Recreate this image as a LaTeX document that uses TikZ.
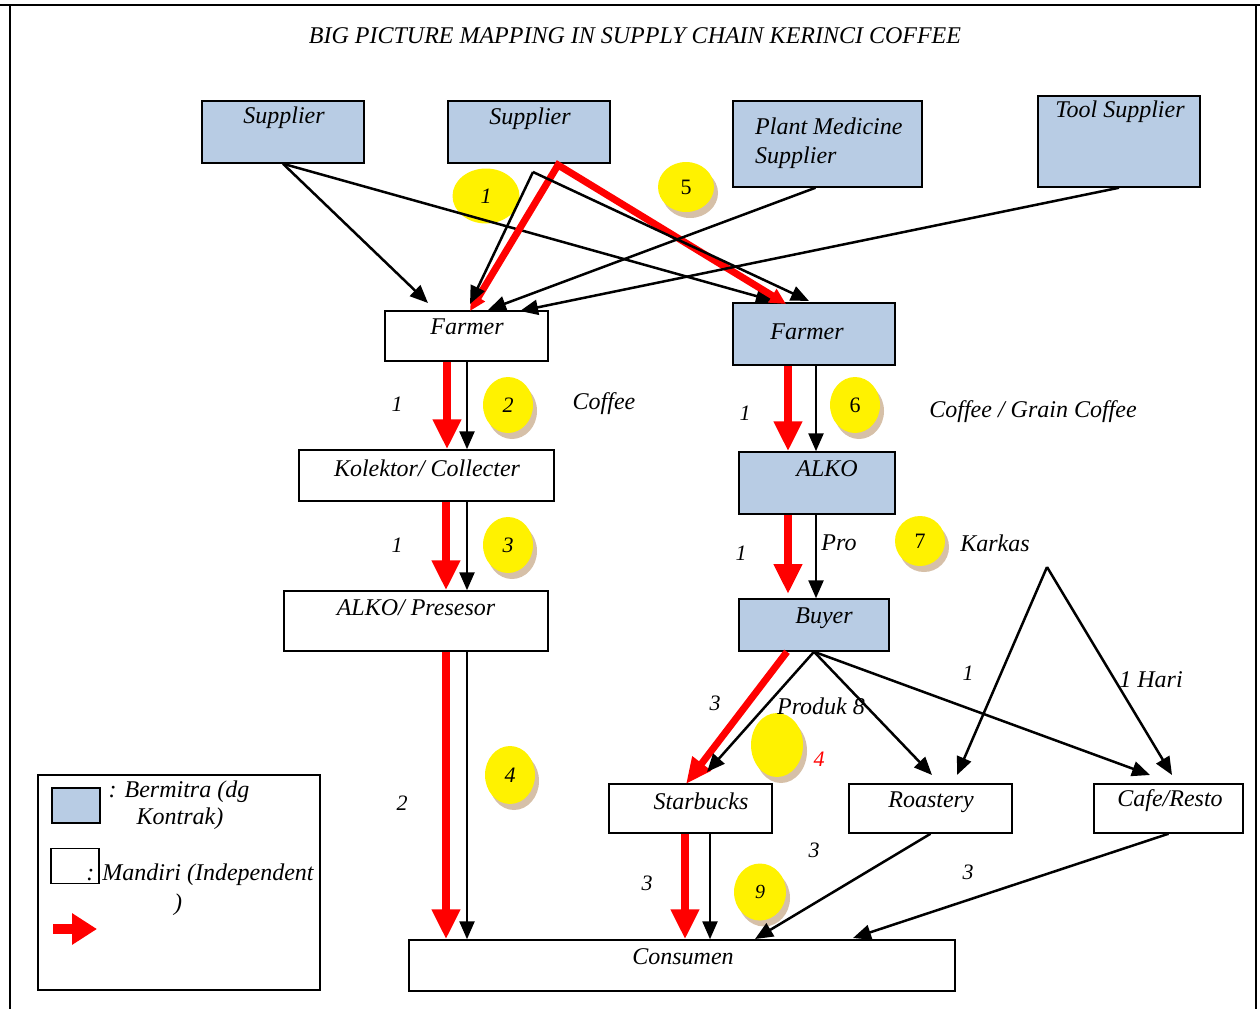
\documentclass[tikz,border=0pt]{standalone}
\usepackage{fontspec}
\setmainfont{Liberation Serif}
\usetikzlibrary{arrows.meta,shapes.geometric,shadows}
\definecolor{bfill}{RGB}{184,204,228}
\definecolor{shad}{RGB}{214,192,168}
\begin{document}
\begin{tikzpicture}[x=1pt,y=-1pt,
  box/.style={draw, line width=1.5pt, inner sep=0pt},
  bbox/.style={box, fill=bfill},
  txt/.style={font=\fontsize{24}{28}\selectfont\itshape, inner sep=0pt},
  num/.style={font=\fontsize{22}{26}\selectfont\itshape, inner sep=0pt},
  arr/.style={line width=2.5pt, -{Triangle[length=18pt,width=15pt]}},
  plain/.style={line width=2.5pt},
  rarr/.style={red, line width=8pt, -{Triangle[length=30pt,width=27pt]}},
  circ/.style={ellipse, fill=yellow, inner sep=0pt, font=\fontsize{22}{26}\selectfont\itshape},
  shd/.style={drop shadow={shadow xshift=4pt, shadow yshift=-6pt, fill=shad, opacity=1}}
]
\useasboundingbox (0,0) rectangle (1260,1009);
% frame
\draw[line width=2pt] (0,5) -- (1260,5);
\draw[line width=1.5pt] (10,5) -- (10,1009);
\draw[line width=1.5pt] (1256,5) -- (1256,1009);
\node[txt] (title) at (635,36) {BIG PICTURE MAPPING IN SUPPLY CHAIN KERINCI COFFEE};

% boxes
\node[bbox, minimum width=162pt, minimum height=62pt] (s1) at (283,132) {};
\node[bbox, minimum width=162pt, minimum height=62pt] (s2) at (529,132) {};
\node[bbox, minimum width=189pt, minimum height=86pt] (pm) at (827.5,144) {};
\node[bbox, minimum width=162pt, minimum height=91pt] (ts) at (1119,141.5) {};
\node[box, minimum width=163pt, minimum height=50pt] (fl) at (466.5,336) {};
\node[bbox, minimum width=162pt, minimum height=62pt] (fr) at (814,334) {};
\node[box, minimum width=255pt, minimum height=51pt] (kol) at (426.5,475.5) {};
\node[bbox, minimum width=156pt, minimum height=62pt] (alko) at (817,483) {};
\node[box, minimum width=264pt, minimum height=60pt] (pres) at (416,621) {};
\node[bbox, minimum width=150pt, minimum height=52pt] (buy) at (814,625) {};
\node[box, minimum width=163pt, minimum height=49pt] (sb) at (690.5,808.5) {};
\node[box, minimum width=163pt, minimum height=49pt] (ro) at (930.5,808.5) {};
\node[box, minimum width=149pt, minimum height=49pt] (cr) at (1168.5,808.5) {};
\node[box, minimum width=546pt, minimum height=51pt] (con) at (682,965.5) {};

% box texts
\node[txt] (ts1) at (284,118) {Supplier};
\node[txt] (ts2) at (530,119) {Supplier};
\node[txt, anchor=west] (tpm1) at (755,126) {Plant Medicine};
\node[txt, anchor=west] (tpm2) at (755,158) {Supplier};
\node[txt] (tts) at (1120,112) {Tool Supplier};
\node[txt] (tfl) at (467,327) {Farmer};
\node[txt] (tfr) at (807,332) {Farmer};
\node[txt] (tkol) at (427,468) {Kolektor/ Collecter};
\node[txt] (talko) at (827,469) {ALKO};
\node[txt] (tpres) at (416,608) {ALKO/ Presesor};
\node[txt] (tbuy) at (824,618) {Buyer};
\node[txt] (tsb) at (701,801) {Starbucks};
\node[txt] (tro) at (931,802) {Roastery};
\node[txt] (tcr) at (1170,801) {Cafe/Resto};
\node[txt] (tcon) at (683,957) {Consumen};

% yellow circles
\node[circ, minimum width=67pt, minimum height=55pt] (c1) at (486,196) {1};
\node[circ, shd, minimum width=56pt, minimum height=50pt, font=\fontsize{22}{26}\selectfont] (c5) at (686,187) {5};
\node[circ, shd, minimum width=50pt, minimum height=56pt] (c2) at (508,405) {2};
\node[circ, shd, minimum width=50pt, minimum height=56pt] (c3) at (508,545) {3};
\node[circ, shd, minimum width=50pt, minimum height=56pt, font=\fontsize{22}{26}\selectfont] (c6) at (855,405) {6};
\node[circ, shd, minimum width=50pt, minimum height=50pt, font=\fontsize{22}{26}\selectfont] (c7) at (920,541) {7};
\node[circ, shd, minimum width=50pt, minimum height=58pt] (c4) at (510,775) {4};
\node[circ, shd, minimum width=52pt, minimum height=64pt] (c8) at (777,745) {};
\node[circ, shd, minimum width=52pt, minimum height=57pt, font=\fontsize{20}{24}\selectfont\itshape] (c9) at (760,892) {9};

% arrow tip coordinates
\coordinate (tA) at (428,303);
\coordinate (tB) at (470,304);
\coordinate (tR1) at (470,311);
\coordinate (tC) at (488,310);
\coordinate (tD) at (520,311);
\coordinate (tE) at (774,301);
\coordinate (tR2) at (786,304);
\coordinate (tF) at (809,301);
\coordinate (v2) at (533,172);
\coordinate (vr) at (558,165);
\coordinate (apex) at (1047,567);

% supplier arrows
\draw[arr] (s1.south) -- (tA);
\draw[arr] (s1.south) -- (tE);
\draw[red, line width=7pt, line join=miter, {Triangle[length=16pt,width=15pt]}-{Triangle[length=16pt,width=15pt]}] (tR1) -- (vr) -- (tR2);
\draw[arr] (v2) -- (tB);
\draw[arr] (v2) -- (tF);
\draw[arr] ([xshift=-12pt]pm.south) -- (tC);
\draw[arr] (ts.south) -- (tD);

% left column
\draw[rarr] (447,0 |- fl.south) -- (447,0 |- kol.north);
\draw[arr] (467,0 |- fl.south) -- (467,0 |- kol.north);
\draw[rarr] (446,0 |- kol.south) -- (446,0 |- pres.north);
\draw[arr] (467,0 |- kol.south) -- (467,0 |- pres.north);
\draw[rarr] (446,0 |- pres.south) -- (446,0 |- con.north);
\draw[arr] (467,0 |- pres.south) -- (467,0 |- con.north);

% right column
\draw[rarr] (788,0 |- fr.south) -- (788,0 |- alko.north);
\draw[arr] (816,0 |- fr.south) -- (816,0 |- alko.north);
\draw[rarr] (788,0 |- alko.south) -- (788,594);
\draw[arr] (816,0 |- alko.south) -- (816,0 |- buy.north);

% buyer fan
\draw[red, line width=7pt, -{Triangle[length=26pt,width=22pt]}] ([xshift=-27pt]buy.south) -- (686,784);
\draw[arr] (buy.south) -- (707,772);
\draw[arr] (buy.south) -- (932,775);
\draw[arr] (buy.south) -- (1150,775);
\draw[arr] (apex) -- (957,775);
\draw[arr] (apex) -- (1172,775);

% to consumen
\draw[rarr] (685,0 |- sb.south) -- (685,0 |- con.north);
\draw[arr] (710,0 |- sb.south) -- (710,0 |- con.north);
\draw[arr] (ro.south) -- (755,939);
\draw[arr] (cr.south) -- (853,938);

% labels
\node[num] (l1) at (397,404) {1};
\node[txt] (lcof) at (604,404) {Coffee};
\node[num] (l2) at (397,545) {1};
\node[num] (l3) at (402,803) {2};
\node[num] (l4) at (745,413) {1};
\node[txt] (lcg) at (1033,412) {Coffee / Grain Coffee};
\node[num] (l5) at (741,553) {1};
\node[txt] (lpro) at (839,543) {Pro};
\node[txt] (lkar) at (995,543) {Karkas};
\node[num] (l6) at (968,673) {1};
\node[txt] (lhari) at (1151,680) {1 Hari};
\node[num] (l7) at (715,703) {3};
\node[txt] (lprod) at (821,706) {Produk 8};
\node[num, text=red] (l8) at (819,759) {4};
\node[num] (l9) at (814,850) {3};
\node[num] (l10) at (968,872) {3};
\node[num] (l11) at (647,883) {3};

% legend
\node[box, minimum width=282pt, minimum height=215pt] (leg) at (179,882.5) {};
\node[bbox, minimum width=48pt, minimum height=35pt] (sw1) at (76,805.5) {};
\node[box, minimum width=48pt, minimum height=35pt] (sw2) at (75,866) {};
\node[txt] (lg1) at (179,792) {: Bermitra (dg};
\node[txt] (lg2) at (180,819) {Kontrak)};
\node[txt] (lg3) at (200,875) {: Mandiri (Independent};
\node[txt] (lg4) at (178,905) {)};
\coordinate (la) at (53,929);
\coordinate (lb) at (97,929);
\draw[red, line width=10pt, -{Triangle[length=25pt,width=30pt]}] (la) -- (lb);
\end{tikzpicture}
\end{document}
